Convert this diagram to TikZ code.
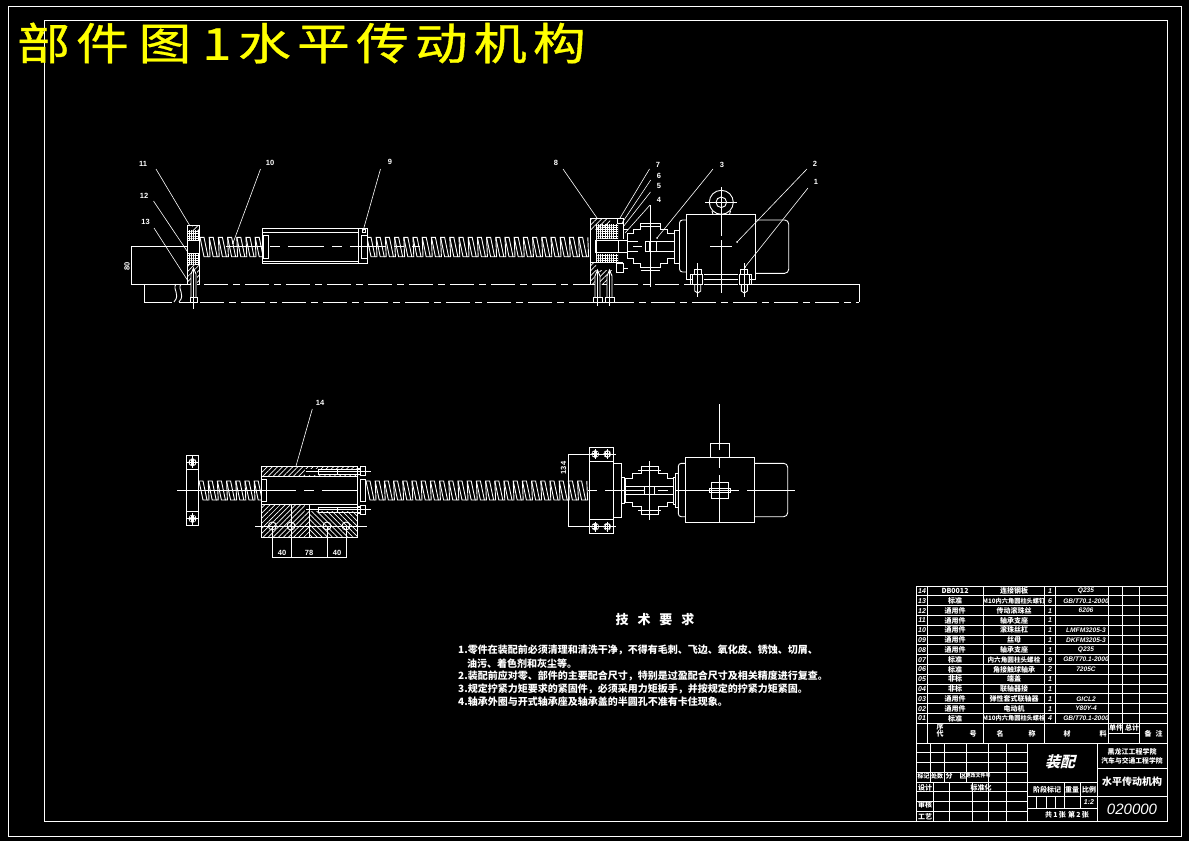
\documentclass[tikz,border=0pt]{standalone}
\usepackage{fontspec}
\usetikzlibrary{calc,positioning,patterns.meta}
\newfontfamily\cjk{Noto Sans CJK SC}
\newfontfamily\cjkslant[FakeSlant=0.25]{Noto Sans CJK SC}
\newfontfamily\titlefont[LetterSpace=11.7,FakeBold=0.7]{Noto Sans CJK SC}
\setsansfont{Liberation Sans}
\newcommand{\fsz}[1]{\fontsize{#1}{#1}\selectfont}
\newcommand{\fwc}{\symbol{"FF0C}}
% one run of the ball screw: start x, number of turns, top y, bottom y
\newcommand{\screwrun}[4]{
\foreach \k in {1,...,#2} {
\pgfmathsetmacro{\xa}{#1+9.2*(\k-1)}
\draw[part] (\xa,#3) -- ++(4,0) -- ($(\xa,#4)+(8,0)$) -- ++(-4,0) -- cycle;
\draw[part] ($(\xa,#4)+(8,0)$) -- ($(\xa,#4)+(10,0)$) -- ($(\xa,#3)+(9.2,0)$);
}}

\begin{document}
\begin{tikzpicture}[x=1pt, y=-1pt]
\tikzset{part/.style={draw=white,line width=.9pt},
thin part/.style={draw=white,line width=.6pt},
centerline/.style={part,dash pattern=on 36pt off 8pt on 10pt off 8pt},
baseline/.style={part,dash pattern=on 24pt off 5pt on 7pt off 5pt},
hatch/.style={pattern={Lines[angle=45,distance=3.6pt,line width=.7pt]},pattern color=white},
backhatch/.style={pattern={Lines[angle=-45,distance=3.6pt,line width=.7pt]},pattern color=white},
dense/.style={pattern={Hatch[angle=0,distance=2.2pt,line width=.8pt]},pattern color=white},
partno/.style={text=white,font=\sffamily\bfseries\fsz{7.5}},
dimtext/.style={text=white,font=\sffamily\bfseries\fsz{7.5}},
tabletext/.style={text=white,font=\cjk\bfseries\fsz{7},inner sep=0},
notetext/.style={text=white,font=\cjk\bfseries\fsz{10},inner sep=0,anchor=west}}

\fill[black] (0,0) rectangle (1189,841);
\useasboundingbox (0,0) rectangle (1189,841);

% frames
\draw[thin part] (8.5,6.5) rectangle (1181.5,836);
\draw[thin part] (44,20.5) rectangle (1167.3,821);

\node (title) [text={rgb,255:red,255;green,255;blue,0},font=\titlefont\fsz{44},anchor=west,inner sep=0] at (17,43) {\scalebox{1.2}[1]{部件\hspace{8pt}图\hspace{9pt}1\hspace{5.5pt}水平传动机构}};

%% Upper view
% base plate
\draw[part] (144,284) -- (144,302) -- (172,302);
\draw[part] (176,284) .. controls (172,290) and (181,294) .. (174,302);
\draw[part] (181,284) .. controls (177,290) and (186,294) .. (179,302);
\draw[part] (131,284) -- (187,284);
\draw[baseline] (204,284) -- (690,284);
\draw[part] (752,284) -- (859,284) -- (859,302);
\draw[baseline] (200,302) -- (859,302);
\draw[baseline] (179,302) -- (196,302);

% left support
\fill[hatch] (187,265) rectangle (199.7,284);
\fill[dense] (187.5,230) rectangle (199.5,240);
\fill[dense] (187.5,254) rectangle (199.5,264);
\draw[part] (187,225) rectangle (199.7,284);
\fill[hatch] (192,225.5) rectangle (199.5,230);
\draw[part] (187,233) -- (199.7,233);
\draw[part] (187,240) -- (199.7,240) (187,253) -- (199.7,253);
\draw[part] (190,297) rectangle (197.5,302);
\fill[black] (190.5,270) rectangle (196.5,297);
\draw[part] (191,297) -- (191,274) -- (193.5,268) -- (196,274) -- (196,297);
\draw[part] (193.5,268) -- (193.5,309);

% left dimension
\draw[part] (131,246.5) -- (187,246.5);
\draw[part] (131.7,246.5) -- (131.7,284);
\node (dimA) [dimtext,rotate=90,inner sep=0] at (127,266) {80};

% screw
\screwrun{200}{7}{237.3}{256.7}
\screwrun{367}{24}{237.3}{256.7}

% nut
\fill[black] (262,228) rectangle (367,263);
\draw[part] (262,228) rectangle (367,263);
\draw[part] (262,232) -- (358,232) (262,261) -- (358,261) (358.3,228) -- (358.3,263);
\draw[part] (263,235) rectangle (268.5,258);
\draw[part] (361,235) rectangle (367,258);
\draw[part] (362,229) -- (365,229) -- (365,232.5) -- (362,232.5) -- cycle;
\draw[centerline] (226,246.5) -- (420,246.5);

% right support
\fill[black] (590,218) rectangle (623.3,284);
\fill[hatch] (590.7,218) rectangle (610,229);
\fill[hatch] (590.7,262) rectangle (596,284);
\fill[hatch] (596,270) rectangle (612,284);
\fill[dense] (596,224) rectangle (618,238);
\fill[dense] (596,254) rectangle (618,262);
\draw[part] (590.7,284) -- (590.7,218) -- (617,218) -- (617,223) -- (623.3,223) -- (623.3,239);
\draw[part] (617,218) -- (623.3,218) -- (623.3,223);
\draw[part] (596,229) -- (617,229) (596,224) -- (596,262);
\draw[part] (595.5,240) rectangle (627.3,252);
\draw[part] (618,240) -- (618,252);
\draw[part] (616,263) rectangle (623.3,272) (590.7,262) -- (623.3,262);
\draw[part] (623,229) -- (628,229) (623,268) -- (628,268);
\foreach \u in {597.5,609.5} {
\draw[part] (\u-4.5,297) rectangle (\u+4.5,302);
\fill[black] (\u-2.8,272) rectangle (\u+2.8,297);
\draw[part] (\u-2.5,297) -- (\u-2.5,276) -- (\u,270) -- (\u+2.5,276) -- (\u+2.5,297);
\draw[part] (\u,272) -- (\u,306);
}

% coupling
\draw[part] (627.3,233.3) -- (633.3,233.3) -- (633.3,229) -- (640.7,229) -- (640.7,223.3) -- (660,223.3) -- (660,229) -- (667.3,229) -- (667.3,233.3) -- (674,233.3);
\draw[part] (627.3,258.3) -- (633.3,258.3) -- (633.3,263.3) -- (640.7,263.3) -- (640.7,267.3) -- (660,267.3) -- (660,263.3) -- (667.3,263.3) -- (667.3,258.3) -- (674,258.3);
\draw[part] (627.3,233.3) -- (627.3,258.3);
\draw[part] (640.7,226) -- (660,226) (640.7,270) -- (660,270);
\draw[part] (645,241) -- (674,241) (645,251) -- (674,251);
\draw[part] (645,241) -- (645,251) (649,241) -- (649,251) (656,241) -- (656,251);
\draw[part] (628,241) -- (638,241) (633,246.5) -- (642,246.5) (628,251) -- (638,251);
\draw[part] (650.3,205) -- (650.3,287);

% motor
\draw[part] (674,230) rectangle (679.5,263);
\draw[part,rounded corners=3pt] (686,220) -- (679.5,220) -- (679.5,272) -- (686,272);
\draw[part] (686,214.3) rectangle (755.7,279.3);
\draw[part,rounded corners=4pt] (755.7,220) -- (788.7,220) -- (788.7,273.3) -- (755.7,273.3);
\draw[part] (690.3,274.3) rectangle (751.7,284.3);
\draw[part] (721.3,187) -- (721.3,236) (721.3,240) -- (721.3,293);
\draw[part] (710,246.5) -- (732,246.5);
\draw[part] (721.3,202.3) circle (12pt) (721.3,202.3) circle (5.3pt);
\draw[part] (705,202.3) -- (737,202.3);
\draw[part] (712,211) -- (713,214.3) (730.5,211) -- (729.5,214.3);
\foreach \u in {697.7,744.3} {
\fill[black] (\u-6,269) rectangle (\u+6,294);
\draw[part] (\u-3.5,269) rectangle (\u+3.5,274.3);
\draw[part] (\u-5,274.3) rectangle (\u+5,284.3);
\draw[part] (\u-3,284.3) -- (\u-3,291) -- (\u,293) -- (\u+3,291) -- (\u+3,284.3);
\draw[part] (\u,263) -- (\u,297);
}

%% Leaders
\foreach \u/\lx/\ly/\sx/\sy/\ex/\ey in {11/143/164/156/169/190/226, 12/144/196/153.5/201/187/251, 13/145.5/222/154/228/188/281, 10/270/162.5/260.5/169/233/243, 9/390/162/380.5/169/363/231, 8/556/162.5/563/169/597/218, 7/658/165/649.5/169/620/218, 6/659/176/650.7/180/622/223, 5/659/186/650.5/192/623/227, 4/659/200/650/205/625/233, 3/722/165/713/169/657/238, 2/815/164/807/169/737/242, 1/816/182/808/188/745/267, 14/320/403/312.3/409/294/473}
{
\node (lab\u) [partno] at (\lx,\ly) {\u};
\coordinate (a\u) at (\sx,\sy);
\coordinate (b\u) at (\ex,\ey);
\draw[thin part] (a\u) -- (b\u);
}
\foreach \u in {10,3,2,1} \fill[white] (b\u) circle (1pt);

%% Lower view
% left support
\draw[part] (186.3,455.3) rectangle (198.7,525.7);
\draw[part] (186.3,469) -- (198.7,469) (186.3,511.7) -- (198.7,511.7);
\foreach \u in {462.3,518.7} {
\filldraw[draw=white,dense] (192.5,\u) circle (3.8pt);
\draw[part] (187,\u) -- (198,\u) (192.5,\u-6) -- (192.5,\u+6);
}

% screw
\screwrun{199}{7}{481}{500}
\screwrun{366}{24}{481}{500}

% nut
\fill[black] (261.3,466.3) rectangle (366,537.3);
\fill[hatch] (261.3,466.3) rectangle (357.3,476.3);
\fill[hatch] (261.3,504) rectangle (309.5,537.3);
\fill[backhatch] (309.5,504) rectangle (357.3,537.3);
\fill[black] (305,469) rectangle (357,475);
\fill[black] (305,505) rectangle (357,511);
\draw[part] (261.3,466.3) rectangle (357.3,537.3);
\draw[part] (261.3,476.3) -- (357.3,476.3) (261.3,504) -- (357.3,504);
\draw[part] (291.5,504) -- (291.5,537.3) (309.5,504) -- (309.5,537.3);
\draw[part] (261.3,479) rectangle (266.7,501.7);
\draw[part] (360,479) rectangle (365.7,501.7);
\draw[part] (357.3,468) -- (360.7,468) (357.3,474) -- (360.7,474) (357.3,506) -- (360.7,506) (357.3,513) -- (360.7,513);
\draw[part] (360.7,466.3) rectangle (365.3,475.7);
\draw[part] (360.7,505) rectangle (365.3,514.3);
\foreach \u in {471.7,509.7} {
\draw[part] (305.7,\u) -- (370.7,\u);
\draw[thin part] (318,\u-2.5) -- (360,\u-2.5) (318,\u+2.5) -- (360,\u+2.5);
\draw[part] (318,\u-3) -- (318,\u+3) (337,\u-3) -- (337,\u+3);
}
\draw[part] (177,490) -- (296,490) (304,490) -- (314,490) (322,490) -- (358,490);
\draw[part] (255,526) -- (366.7,526);
\foreach \u in {272.3,291,327,346} \draw[part] (\u,526) circle (4pt);

% lower dimensions
\foreach \u in {272.3,291,327,346} \draw[part] (\u,526) -- (\u,558.3);
\draw[part] (272.3,557.3) -- (346,557.3);
\node (dimB) [dimtext,inner sep=0] at (282,553) {40};
\node (dimC) [dimtext,inner sep=0] at (309,553) {78};
\node (dimD) [dimtext,inner sep=0] at (337,553) {40};

% right support
\fill[black] (589,447) rectangle (614,534);
\draw[part] (589.3,447.3) rectangle (613.3,533.3);
\draw[part] (589.3,461.3) -- (613.3,461.3) (589.3,519.3) -- (613.3,519.3);
\foreach \u/\v in {595.3/454,607.3/454,595.3/526.7,607.3/526.7} {
\filldraw[draw=white,dense] (\u,\v) circle (3.6pt);
\draw[part] (\u-5,\v) -- (\u+5,\v) (\u,\v-5) -- (\u,\v+5);
}
\draw[part] (613.3,463.3) -- (621.7,463.3) -- (621.7,517.3) -- (613.3,517.3);
\draw[part] (621.7,477) -- (624,477) -- (624,503) -- (621.7,503);
\draw[part] (568,454.3) -- (616,454.3) (568,526.3) -- (616,526.3);
\draw[part] (568.3,454.3) -- (568.3,526.3);
\node (dimE) [dimtext,rotate=90,inner sep=0] at (563.5,468) {134};
\draw[part] (588,490.3) -- (597,490.3) (605,490.3) -- (625,490.3);

% coupling
\draw[part] (625.3,478.3) -- (632.3,478.3) -- (632.3,473.3) -- (641.3,473.3) -- (641.3,466.3) -- (658.3,466.3) -- (658.3,473.3) -- (667.3,473.3) -- (667.3,478.3) -- (673.3,478.3);
\draw[part] (625.3,502.7) -- (632.3,502.7) -- (632.3,506.7) -- (641.3,506.7) -- (641.3,514.3) -- (658.3,514.3) -- (658.3,506.7) -- (667.3,506.7) -- (667.3,502.7) -- (673.3,502.7);
\draw[part] (625.3,478.3) -- (625.3,502.7);
\draw[part] (638,470.7) -- (661,470.7) (638,510.3) -- (661,510.3);
\draw[part] (625.3,486) -- (673.3,486) (625.3,494.7) -- (673.3,494.7);
\draw[part] (644.3,486) -- (644.3,494.7) (654.3,486) -- (654.3,494.7);
\draw[part] (625,490.3) -- (644,490.3) (658,490.3) -- (668,490.3);
\draw[part] (649.3,461) -- (649.3,520);

% motor
\draw[part] (673.3,477.3) rectangle (675.3,504);
\draw[part] (675.3,473.3) rectangle (678.3,507.7);
\draw[part,rounded corners=3pt] (685.3,463.3) -- (678.3,463.3) -- (678.3,516.7) -- (685.3,516.7);
\draw[part] (685.3,457.3) rectangle (754.3,522.3);
\draw[part,rounded corners=4pt] (754.3,463.3) -- (787.7,463.3) -- (787.7,516.7) -- (754.3,516.7);
\draw[part] (710.3,457.3) -- (710.3,443.3) -- (729.7,443.3) -- (729.7,457.3);
\draw[part] (719.3,404) -- (719.3,450) (719.3,457.3) -- (719.3,468) (719.3,475) -- (719.3,522.3);
\draw[part] (711.3,482.3) rectangle (728.7,498.7);
\draw[part] (709.3,488) rectangle (730.7,492.7);
\draw[part] (676,490.3) -- (739,490.3) (747,490.3) -- (795,490.3);

%% Requirements
\node (techhead) [text=white,font=\cjk\bfseries\fsz{13},inner sep=0] at (655,620) {技\hspace{9pt}术\hspace{9pt}要\hspace{9pt}求};
\foreach \u/\lx/\ly/\lab in {n1/458/650/{1.零件在装配前必须清理和清洗干净\fwc 不得有毛刺、飞边、氧化皮、锈蚀、切屑、},
n2/467/664/{油污、着色剂和灰尘等。},
n3/458/676/{2.装配前应对零、部件的主要配合尺寸\fwc 特别是过盈配合尺寸及相关精度进行复查。},
n4/458/689/{3.规定拧紧力矩要求的紧固件\fwc 必须采用力矩扳手\fwc 并按规定的拧紧力矩紧固。},
n5/458/702/{4.轴承外圈与开式轴承座及轴承盖的半圆孔不准有卡住现象。}}
\node (\u) [notetext] at (\lx,\ly) {\lab};

%% Parts list
\foreach \k in {0,...,14} \draw[part] (916.7,586+9.8*\k) -- (1167.3,586+9.8*\k);
\draw[part] (916.7,743.3) -- (1167.3,743.3) (1108.7,733.3) -- (1139.3,733.3);
\foreach \u in {916.7,927.3,983.3,1044.7,1108.7,1139.3} \draw[part] (\u,586) -- (\u,743.3);
\foreach \u in {1055.3,1122.7} \draw[part] (\u,586) -- (\u,723.2);
\draw[part] (1122.7,723.2) -- (1122.7,733.3);
\foreach \i/\a/\b/\c/\d [count=\k from 0] in {14/DB0012/连接钢板/1/Q235,
13/标准/{\fsz{6.2}M10内六角圆柱头螺钉}/6/{GB/T70.1-2000},
12/通用件/传动滚珠丝/1/6206,
11/通用件/轴承支座/1/{},
10/通用件/滚珠丝杠/1/{LMFM3205-3},
09/通用件/丝母/1/{DKFM3205-3},
08/通用件/轴承支座/1/Q235,
07/标准/{\fsz{6.6}内六角圆柱头螺栓}/9/{GB/T70.1-2000},
06/标准/角接触球轴承/2/7205C,
05/非标/端盖/1/{},
04/非标/联轴器接/1/{},
03/通用件/弹性套式联轴器/1/GICL2,
02/通用件/电动机/1/Y80Y-4,
01/标准/{\fsz{6.2}M10内六角圆柱头螺栓}/4/{GB/T70.1-2000}}
{
\node (no\k) [tabletext,font=\sffamily\bfseries\itshape\fsz{7}] at (922,591+9.8*\k) {\i};
\node (code\k) [tabletext] at (955,591+9.8*\k) {\a};
\node (name\k) [tabletext] at (1014,591+9.8*\k) {\b};
\node (qty\k) [tabletext,font=\sffamily\bfseries\itshape\fsz{7}] at (1050,591+9.8*\k) {\c};
\node (mat\k) [tabletext,font=\sffamily\bfseries\itshape\fsz{6.6}] at (1086,591+9.8*\k) {\d};
}
\foreach \u/\lx/\ly/\lab in {h0/940/727/序, h1/940/734/代, h2/973/734/号, h3/1000/734/名, h4/1032/734/称, h5/1067/734/材, h6/1103/734/料, h7/1116/728/单件, h8/1132/728/总计, h9/1148/734/备, h10/1159/734/注}
\node (\u) [tabletext] at (\lx,\ly) {\lab};

%% Title block
\draw[part] (916.7,743.3) rectangle (1167.3,821);
\foreach \u in {752.7,762.7,772.7,782.7,791.7,801.7,811.7} \draw[part] (916.7,\u) -- (1027.3,\u);
\foreach \u in {930.7,944.7,966.7} \draw[part] (\u,743.3) -- (\u,782.7);
\foreach \u in {933.3,949.3,972.3} \draw[part] (\u,782.7) -- (\u,821);
\foreach \u in {988.7,1006,1027.3} \draw[part] (\u,743.3) -- (\u,821);
\draw[part] (1097.3,743.3) -- (1097.3,821);
\draw[part] (1027.3,782.7) -- (1097.3,782.7) (1027.3,796.7) -- (1097.3,796.7) (1027.3,808.3) -- (1097.3,808.3);
\draw[part] (1097.3,768.3) -- (1167.3,768.3) (1097.3,796) -- (1167.3,796);
\foreach \u in {1036.7,1046,1055.3} \draw[part] (\u,796.7) -- (\u,808.3);
\draw[part] (1064,782.7) -- (1064,808.3) (1080.7,782.7) -- (1080.7,808.3);

\foreach \u/\lx/\ly/\lab in {b5/925/788/设计, b6/981/788/标准化, b7/925/805/审核, b8/925/817/工艺, b9/1047/790/阶段标记, b10/1072/790/重量, b11/1089/790/比例, b12/1067/815/{共\,1\,张\,\,第\,2\,张}, b13/1132/752/黑龙江工程学院, b14/1132/761/{\fsz{6.8}汽车与交通工程学院}, b2/949/776/分, b3/963/776/区}
\node (\u) [tabletext] at (\lx,\ly) {\lab};
\node (b0) [tabletext,font=\cjk\bfseries\fsz{6}] at (923.5,776) {标记};
\node (b1) [tabletext,font=\cjk\bfseries\fsz{6}] at (937,776) {处数};
\node (b4) [tabletext,font=\cjk\bfseries\fsz{5}] at (978,776) {更改文件号};
\node (b15) [tabletext,font=\sffamily\bfseries\itshape\fsz{7}] at (1089,802) {1:2};
\node (b16) [tabletext,font=\cjkslant\bfseries\fsz{15}] at (1060,762) {装配};
\node (b17) [tabletext,font=\cjk\bfseries\fsz{10}] at (1132,782) {水平传动机构};
\node (b18) [tabletext,font=\sffamily\itshape\fsz{15}] at (1132,809) {020000};

\end{tikzpicture}
\end{document}
